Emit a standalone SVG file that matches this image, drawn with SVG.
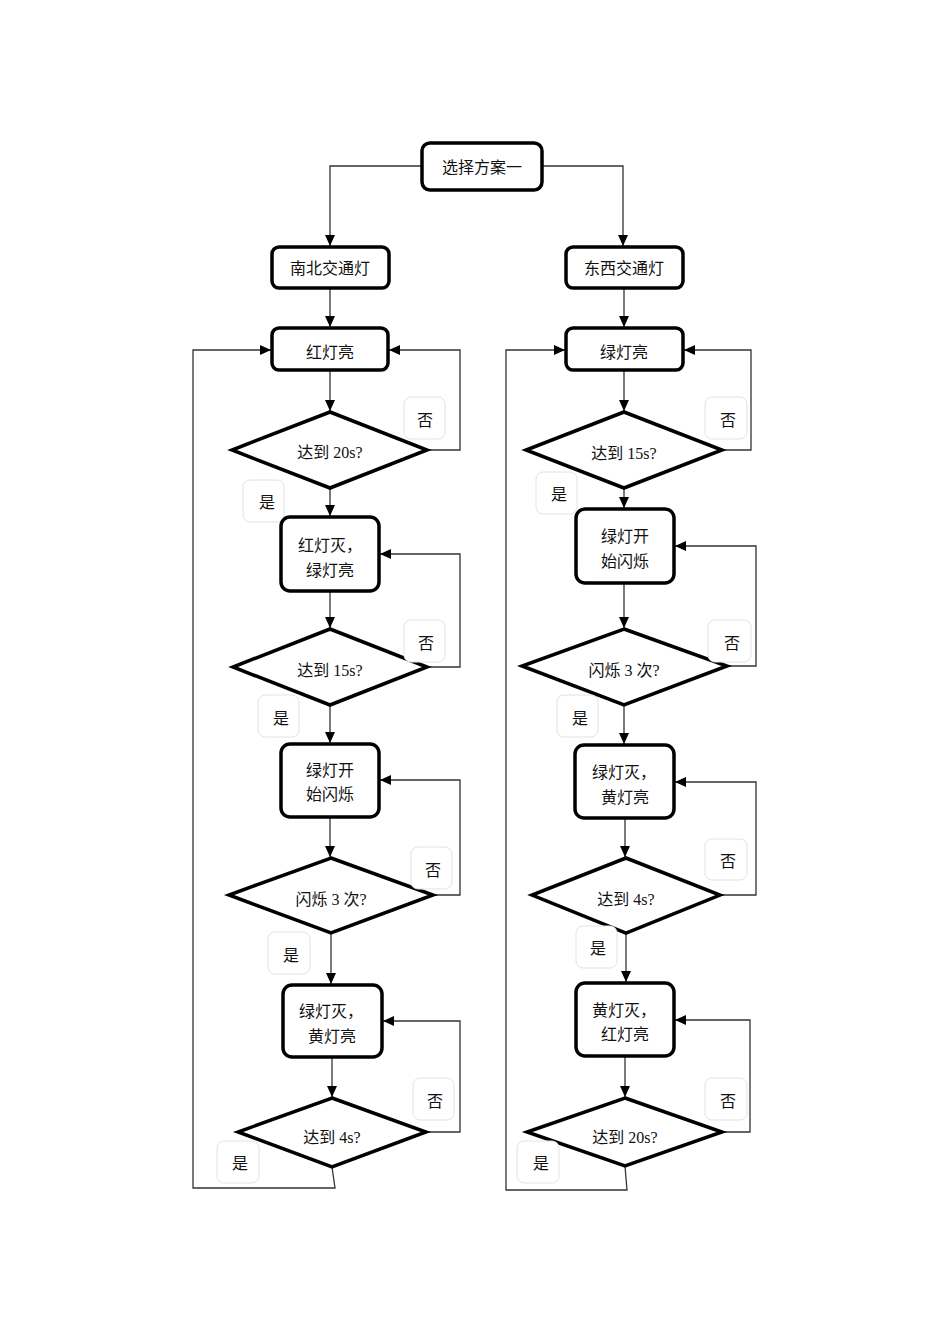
<svg xmlns="http://www.w3.org/2000/svg" width="950" height="1344" viewBox="0 0 950 1344">
<style>
.box{fill:#fff;stroke:#000;stroke-width:3.5}
.dia{fill:#fff;stroke:#000;stroke-width:3.5;stroke-linejoin:miter}
.lbl{fill:#fff;stroke:#e2e2e2;stroke-width:1}
.c{fill:none;stroke:#333;stroke-width:1.3}
text{font-family:"Liberation Serif","Noto Sans CJK SC",serif;font-size:16px;fill:#111;text-anchor:middle;dominant-baseline:central}
</style>
<defs>
<marker id="ah" markerUnits="userSpaceOnUse" markerWidth="12" markerHeight="10" refX="11" refY="5" orient="auto">
<path d="M0,0 L11,5 L0,10 z" fill="#000"/>
</marker>
</defs>
<rect width="950" height="1344" fill="#fff"/>
<g id="connectors">
<path class="c" d="M422,166 H330 V246" marker-end="url(#ah)"/>
<path class="c" d="M542,166 H623 V246" marker-end="url(#ah)"/>
<path class="c" d="M330,288 V327" marker-end="url(#ah)"/>
<path class="c" d="M624,288 V327" marker-end="url(#ah)"/>
<!-- left column -->
<path class="c" d="M330,370 V411" marker-end="url(#ah)"/>
<path class="c" d="M427,450 H460 V350 H389" marker-end="url(#ah)"/>
<path class="c" d="M330,488 V516" marker-end="url(#ah)"/>
<path class="c" d="M330,591 V628" marker-end="url(#ah)"/>
<path class="c" d="M427,667 H460 V554 H380" marker-end="url(#ah)"/>
<path class="c" d="M330,705 V743" marker-end="url(#ah)"/>
<path class="c" d="M330,817 V857" marker-end="url(#ah)"/>
<path class="c" d="M433,895 H460 V780 H380" marker-end="url(#ah)"/>
<path class="c" d="M331,933 V984" marker-end="url(#ah)"/>
<path class="c" d="M332,1057 V1097" marker-end="url(#ah)"/>
<path class="c" d="M426,1132 H460 V1021 H383" marker-end="url(#ah)"/>
<path class="c" d="M332,1167 L335,1188 H193 V350 H271" marker-end="url(#ah)"/>
<!-- right column -->
<path class="c" d="M624,370 V411" marker-end="url(#ah)"/>
<path class="c" d="M722,450 H751 V350 H684" marker-end="url(#ah)"/>
<path class="c" d="M624,488 V508" marker-end="url(#ah)"/>
<path class="c" d="M624,583 V628" marker-end="url(#ah)"/>
<path class="c" d="M727,666 H756 V546 H675" marker-end="url(#ah)"/>
<path class="c" d="M624,705 V744" marker-end="url(#ah)"/>
<path class="c" d="M625,818 V857" marker-end="url(#ah)"/>
<path class="c" d="M720,895 H756 V782 H675" marker-end="url(#ah)"/>
<path class="c" d="M626,933 V982" marker-end="url(#ah)"/>
<path class="c" d="M625,1056 V1097" marker-end="url(#ah)"/>
<path class="c" d="M722,1132 H750 V1020 H675" marker-end="url(#ah)"/>
<path class="c" d="M625,1166 L627,1190 H506 V350 H565" marker-end="url(#ah)"/>
</g>
<g id="start"><rect class="box" x="422" y="143" width="120" height="47" rx="8"/><text x="482" y="167">选择方案一</text></g>
<g id="nb"><rect class="box" x="272" y="247" width="117" height="41" rx="7"/><text x="330" y="268">南北交通灯</text></g>
<g id="dx"><rect class="box" x="566" y="247" width="117" height="41" rx="7"/><text x="624" y="268">东西交通灯</text></g>
<!-- left column nodes -->
<g id="l1"><rect class="box" x="272" y="328" width="116" height="42" rx="7"/><text x="330" y="352">红灯亮</text></g>
<g id="ld1"><polygon class="dia" points="330,412 427,450 330,488 232,450"/><text x="330" y="452">达到 20s?</text></g>
<g id="ln1"><rect class="lbl" x="404" y="397" width="41" height="42" rx="7"/><text x="425" y="420">否</text></g>
<g id="ly1"><rect class="lbl" x="243" y="480" width="41" height="42" rx="7"/><text x="267" y="502">是</text></g>
<g id="l2"><rect class="box" x="281" y="517" width="98" height="74" rx="9"/><text x="330" y="545">红灯灭，</text><text x="330" y="570">绿灯亮</text></g>
<g id="ld2"><polygon class="dia" points="330,629 427,667 330,705 233,667"/><text x="330" y="670">达到 15s?</text></g>
<g id="ln2"><rect class="lbl" x="404" y="620" width="41" height="42" rx="7"/><text x="426" y="643">否</text></g>
<g id="ly2"><rect class="lbl" x="258" y="695" width="41" height="42" rx="7"/><text x="281" y="718">是</text></g>
<g id="l3"><rect class="box" x="281" y="744" width="98" height="73" rx="9"/><text x="330" y="770">绿灯开</text><text x="330" y="794">始闪烁</text></g>
<g id="ld3"><polygon class="dia" points="331,858 433,895 331,933 229,895"/><text x="331" y="899">闪烁 3 次?</text></g>
<g id="ln3"><rect class="lbl" x="411" y="847" width="41" height="42" rx="7"/><text x="433" y="870">否</text></g>
<g id="ly3"><rect class="lbl" x="268" y="932" width="42" height="42" rx="7"/><text x="291" y="955">是</text></g>
<g id="l4"><rect class="box" x="283" y="985" width="99" height="72" rx="9"/><text x="331" y="1011">绿灯灭，</text><text x="332" y="1036">黄灯亮</text></g>
<g id="ld4"><polygon class="dia" points="332,1098 426,1132 332,1167 238,1132"/><text x="332" y="1137">达到 4s?</text></g>
<g id="ln4"><rect class="lbl" x="413" y="1078" width="41" height="42" rx="7"/><text x="435" y="1101">否</text></g>
<g id="ly4"><rect class="lbl" x="217" y="1141" width="42" height="42" rx="7"/><text x="240" y="1163">是</text></g>
<!-- right column nodes -->
<g id="r1"><rect class="box" x="566" y="328" width="117" height="42" rx="7"/><text x="624" y="352">绿灯亮</text></g>
<g id="rd1"><polygon class="dia" points="624,412 722,450 624,488 526,450"/><text x="624" y="453">达到 15s?</text></g>
<g id="rn1"><rect class="lbl" x="705" y="397" width="42" height="42" rx="7"/><text x="728" y="420">否</text></g>
<g id="ry1"><rect class="lbl" x="536" y="472" width="41" height="42" rx="7"/><text x="559" y="494">是</text></g>
<g id="r2"><rect class="box" x="576" y="509" width="98" height="74" rx="9"/><text x="625" y="536">绿灯开</text><text x="625" y="561">始闪烁</text></g>
<g id="rd2"><polygon class="dia" points="624,629 727,666 624,705 522,666"/><text x="624" y="670">闪烁 3 次?</text></g>
<g id="rn2"><rect class="lbl" x="708" y="620" width="43" height="42" rx="7"/><text x="732" y="643">否</text></g>
<g id="ry2"><rect class="lbl" x="557" y="695" width="41" height="42" rx="7"/><text x="580" y="718">是</text></g>
<g id="r3"><rect class="box" x="575" y="745" width="99" height="73" rx="9"/><text x="624" y="772">绿灯灭，</text><text x="625" y="797">黄灯亮</text></g>
<g id="rd3"><polygon class="dia" points="626,858 720,895 626,933 532,895"/><text x="626" y="899">达到 4s?</text></g>
<g id="rn3"><rect class="lbl" x="705" y="839" width="42" height="41" rx="7"/><text x="728" y="861">否</text></g>
<g id="ry3"><rect class="lbl" x="576" y="926" width="41" height="42" rx="7"/><text x="598" y="948">是</text></g>
<g id="r4"><rect class="box" x="576" y="983" width="98" height="73" rx="9"/><text x="624" y="1010">黄灯灭，</text><text x="625" y="1034">红灯亮</text></g>
<g id="rd4"><polygon class="dia" points="625,1098 722,1132 625,1166 527,1132"/><text x="625" y="1137">达到 20s?</text></g>
<g id="rn4"><rect class="lbl" x="705" y="1078" width="42" height="42" rx="7"/><text x="728" y="1101">否</text></g>
<g id="ry4"><rect class="lbl" x="517" y="1141" width="42" height="42" rx="7"/><text x="541" y="1163">是</text></g>
</svg>
